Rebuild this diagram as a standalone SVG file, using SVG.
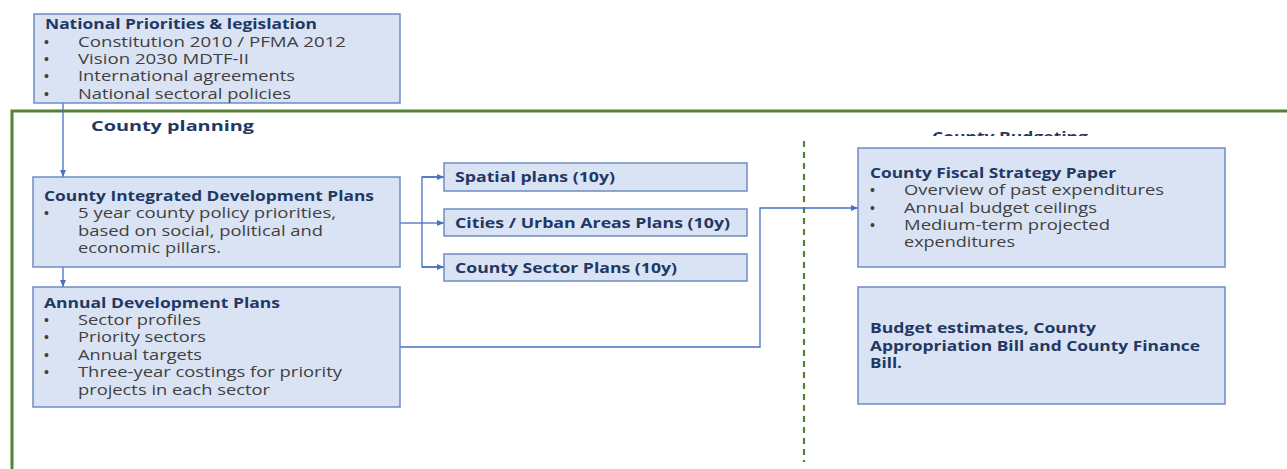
<svg xmlns="http://www.w3.org/2000/svg" width="1287" height="469" viewBox="0 0 1287 469">
<defs>
<style>
.box{fill:#dae3f3;stroke:#6d8cc4;stroke-width:1.5}
.t{font-family:"Open Sans","Liberation Sans",sans-serif;font-size:14px;font-weight:bold;fill:#1f3864}
.i{font-family:"Open Sans","Liberation Sans",sans-serif;font-size:14px;fill:#404040}
.b{font-family:"Liberation Sans",sans-serif;font-size:14px;fill:#404040}
.c{fill:none;stroke:#4472c4;stroke-width:1.3}
</style>
<marker id="ah" markerWidth="8" markerHeight="8" refX="7" refY="4" orient="auto" markerUnits="userSpaceOnUse">
<path d="M0,1 L7,4 L0,7 Z" fill="#4472c4"/>
</marker>
<clipPath id="clipB"><rect x="900" y="120" width="220" height="16"/></clipPath>
</defs>
<rect width="1287" height="469" fill="#ffffff"/>
<g id="frame">
<path d="M12,469 L12,111 L1287,111" fill="none" stroke="#548235" stroke-width="3"/>
<line x1="804" y1="141" x2="804" y2="462" stroke="#548235" stroke-width="2.2" stroke-dasharray="6,5"/>
<text x="91" y="131" class="t" style="font-size:15px" textLength="163" lengthAdjust="spacingAndGlyphs">County planning</text>
<text x="932" y="142" class="t" style="font-size:15px" clip-path="url(#clipB)" textLength="156" lengthAdjust="spacingAndGlyphs">County Budgeting</text>
</g>
<g id="connectors">
<path class="c" d="M63,103 L63,177" marker-end="url(#ah)"/>
<path class="c" d="M63,267 L63,287" marker-end="url(#ah)"/>
<path class="c" d="M400,223 L422,223"/>
<path class="c" d="M444,177 L422,177 L422,267 L444,267"/>
<path class="c" d="M422,177 L444,177" marker-end="url(#ah)"/>
<path class="c" d="M422,223 L444,223" marker-end="url(#ah)"/>
<path class="c" d="M422,267 L444,267" marker-end="url(#ah)"/>
<path class="c" d="M400,347 L760,347 L760,208 L858,208" marker-end="url(#ah)"/>
</g>
<g id="national">
<rect class="box" x="34" y="14" width="366" height="89"/>
<text class="t" x="45" y="29" textLength="272" lengthAdjust="spacingAndGlyphs">National Priorities &amp; legislation</text>
<text class="b" x="44" y="47">•</text><text class="i" x="78" y="47" textLength="268" lengthAdjust="spacingAndGlyphs">Constitution 2010 / PFMA 2012</text>
<text class="b" x="44" y="64">•</text><text class="i" x="78" y="64" textLength="171" lengthAdjust="spacingAndGlyphs">Vision 2030 MDTF-II</text>
<text class="b" x="44" y="81">•</text><text class="i" x="78" y="81" textLength="217" lengthAdjust="spacingAndGlyphs">International agreements</text>
<text class="b" x="44" y="99">•</text><text class="i" x="78" y="99" textLength="213" lengthAdjust="spacingAndGlyphs">National sectoral policies</text>
</g>
<g id="cidp">
<rect class="box" x="33" y="177" width="367" height="90"/>
<text class="t" x="44" y="201" textLength="330" lengthAdjust="spacingAndGlyphs">County Integrated Development Plans</text>
<text class="b" x="44" y="218">•</text><text class="i" x="78" y="218" textLength="258" lengthAdjust="spacingAndGlyphs">5 year county policy priorities,</text>
<text class="i" x="78" y="236" textLength="245" lengthAdjust="spacingAndGlyphs">based on social, political and</text>
<text class="i" x="78" y="253" textLength="143" lengthAdjust="spacingAndGlyphs">economic pillars.</text>
</g>
<g id="adp">
<rect class="box" x="33" y="287" width="367" height="120"/>
<text class="t" x="44" y="308" textLength="236" lengthAdjust="spacingAndGlyphs">Annual Development Plans</text>
<text class="b" x="44" y="325">•</text><text class="i" x="78" y="325" textLength="123" lengthAdjust="spacingAndGlyphs">Sector profiles</text>
<text class="b" x="44" y="342">•</text><text class="i" x="78" y="342" textLength="128" lengthAdjust="spacingAndGlyphs">Priority sectors</text>
<text class="b" x="44" y="360">•</text><text class="i" x="78" y="360" textLength="124" lengthAdjust="spacingAndGlyphs">Annual targets</text>
<text class="b" x="44" y="377">•</text><text class="i" x="78" y="377" textLength="264" lengthAdjust="spacingAndGlyphs">Three-year costings for priority</text>
<text class="i" x="78" y="395" textLength="192" lengthAdjust="spacingAndGlyphs">projects in each sector</text>
</g>
<g id="spatial">
<rect class="box" x="444" y="163" width="303" height="28"/>
<text class="t" x="455" y="182" textLength="160" lengthAdjust="spacingAndGlyphs">Spatial plans (10y)</text>
</g>
<g id="cities">
<rect class="box" x="444" y="209" width="303" height="27"/>
<text class="t" x="455" y="228" textLength="275" lengthAdjust="spacingAndGlyphs">Cities / Urban Areas Plans (10y)</text>
</g>
<g id="sector">
<rect class="box" x="444" y="254" width="303" height="27"/>
<text class="t" x="455" y="273" textLength="222" lengthAdjust="spacingAndGlyphs">County Sector Plans (10y)</text>
</g>
<g id="cfsp">
<rect class="box" x="858" y="148" width="367" height="119"/>
<text class="t" x="870" y="178" textLength="246" lengthAdjust="spacingAndGlyphs">County Fiscal Strategy Paper</text>
<text class="b" x="870" y="195">•</text><text class="i" x="904" y="195" textLength="260" lengthAdjust="spacingAndGlyphs">Overview of past expenditures</text>
<text class="b" x="870" y="213">•</text><text class="i" x="904" y="213" textLength="193" lengthAdjust="spacingAndGlyphs">Annual budget ceilings</text>
<text class="b" x="870" y="230">•</text><text class="i" x="904" y="230" textLength="206" lengthAdjust="spacingAndGlyphs">Medium-term projected</text>
<text class="i" x="904" y="247" textLength="111" lengthAdjust="spacingAndGlyphs">expenditures</text>
</g>
<g id="budget">
<rect class="box" x="858" y="287" width="367" height="117"/>
<text class="t" x="870" y="333" textLength="226" lengthAdjust="spacingAndGlyphs">Budget estimates,  County</text>
<text class="t" x="870" y="351" textLength="330" lengthAdjust="spacingAndGlyphs">Appropriation Bill and County Finance</text>
<text class="t" x="870" y="368" textLength="32" lengthAdjust="spacingAndGlyphs">Bill.</text>
</g>
</svg>
